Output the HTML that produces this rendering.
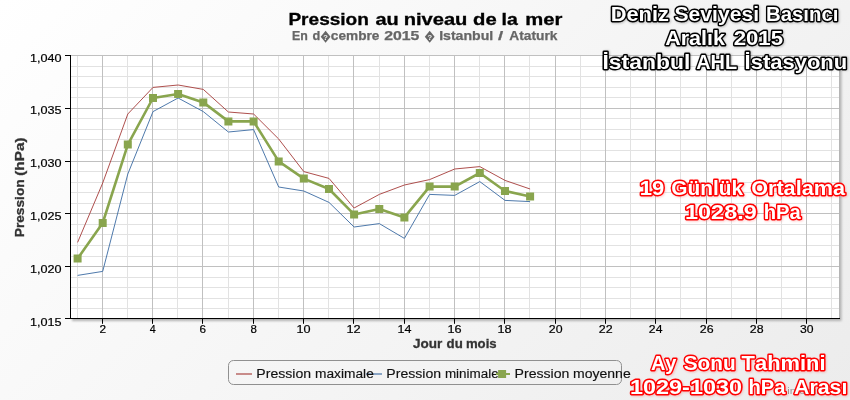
<!DOCTYPE html>
<html><head><meta charset="utf-8"><title>Pression au niveau de la mer</title>
<style>
html,body{margin:0;padding:0;}
body{width:850px;height:400px;overflow:hidden;background:#fff;font-family:"Liberation Sans",sans-serif;}
svg{display:block;font-family:"Liberation Sans",sans-serif;font-kerning:none;}
.tk{font-size:11px;fill:#000;}
.ax{font-size:12px;font-weight:bold;fill:#333;}
.lg{font-size:13px;fill:#111;}
.w{font-size:20.7px;font-weight:bold;fill:#fff;stroke:#000;stroke-width:2.9px;stroke-linejoin:round;paint-order:stroke fill;}
.r{font-size:20.7px;font-weight:bold;fill:#fff;stroke:#f00;stroke-width:2.9px;stroke-linejoin:round;paint-order:stroke fill;}
</style></head><body>
<svg width="850" height="400" viewBox="0 0 850 400" style="will-change:transform">
<defs>
<linearGradient id="bg" gradientUnits="userSpaceOnUse" x1="0" y1="0" x2="625" y2="625"><stop offset="0" stop-color="#ffffff"/><stop offset="1" stop-color="#ececec"/></linearGradient>
<filter id="ps" x="-5%" y="-5%" width="110%" height="110%"><feGaussianBlur stdDeviation="1"/></filter>
<filter id="ts" filterUnits="userSpaceOnUse" x="590" y="0" width="260" height="400"><feGaussianBlur stdDeviation="1.2"/></filter>
</defs>
<rect x="0" y="0" width="850" height="400" fill="url(#bg)"/>

<rect x="72" y="57" width="769.5" height="264" fill="#b2b2b2" filter="url(#ps)"/>
<rect x="70" y="55" width="769" height="264" fill="#fff"/>
<path d="M71 308.5H839M71 298.5H839M71 287.5H839M71 277.5H839M71 256.5H839M71 245.5H839M71 234.5H839M71 224.5H839M71 203.5H839M71 192.5H839M71 182.5H839M71 171.5H839M71 150.5H839M71 139.5H839M71 129.5H839M71 118.5H839M71 97.5H839M71 87.5H839M71 76.5H839M71 66.5H839M77.5 55V318M127.5 55V318M177.5 55V318M228.5 55V318M278.5 55V318M328.5 55V318M379.5 55V318M429.5 55V318M479.5 55V318M529.5 55V318M580.5 55V318M630.5 55V318M680.5 55V318M731.5 55V318M781.5 55V318M831.5 55V318" stroke="#e2e2e2" stroke-width="1" fill="none"/>
<path d="M71 266.5H839M71 213.5H839M71 161.5H839M71 108.5H839M71 55.5H839M102.5 55V318M152.5 55V318M202.5 55V318M253.5 55V318M303.5 55V318M353.5 55V318M404.5 55V318M454.5 55V318M504.5 55V318M555.5 55V318M605.5 55V318M655.5 55V318M706.5 55V318M756.5 55V318M806.5 55V318" stroke="#c0c0c0" stroke-width="1" fill="none"/>
<polyline points="77.6,242.4 102.7,183.0 127.8,114.0 153.0,87.4 178.1,85.0 203.3,89.4 228.4,112.0 253.6,114.0 278.7,139.0 303.8,171.6 329.0,178.4 354.1,208.0 379.3,194.4 404.4,185.0 429.6,179.6 454.7,169.0 479.8,166.6 505.0,180.4 530.1,189.0" fill="none" stroke="#AA4643" stroke-width="0.95" stroke-linejoin="round"/>
<polyline points="77.6,275.4 102.7,271.4 127.8,174.0 153.0,111.6 178.1,98.0 203.3,111.6 228.4,132.0 253.6,129.6 278.7,187.0 303.8,191.0 329.0,202.4 354.1,227.0 379.3,223.6 404.4,238.4 429.6,194.4 454.7,195.4 479.8,181.6 505.0,200.4 530.1,201.6" fill="none" stroke="#4572A7" stroke-width="0.95" stroke-linejoin="round"/>
<polyline points="77.6,258.6 102.7,223.0 127.8,144.6 153.0,98.0 178.1,94.0 203.3,102.4 228.4,121.4 253.6,121.4 278.7,161.4 303.8,178.6 329.0,189.0 354.1,214.4 379.3,209.0 404.4,217.4 429.6,186.6 454.7,186.6 479.8,173.0 505.0,191.0 530.1,196.4" fill="none" stroke="#89A54E" stroke-width="2.6" stroke-linejoin="round"/>
<path d="M73.6 254.6h8v8h-8zM98.7 219.0h8v8h-8zM123.8 140.6h8v8h-8zM149.0 94.0h8v8h-8zM174.1 90.0h8v8h-8zM199.3 98.4h8v8h-8zM224.4 117.4h8v8h-8zM249.6 117.4h8v8h-8zM274.7 157.4h8v8h-8zM299.8 174.6h8v8h-8zM325.0 185.0h8v8h-8zM350.1 210.4h8v8h-8zM375.3 205.0h8v8h-8zM400.4 213.4h8v8h-8zM425.6 182.6h8v8h-8zM450.7 182.6h8v8h-8zM475.8 169.0h8v8h-8zM501.0 187.0h8v8h-8zM526.1 192.4h8v8h-8z" fill="#89A54E"/>
<path d="M70.5 55V319M70 318.5H840M65 318.5H70M65 266.5H70M65 213.5H70M65 161.5H70M65 108.5H70M65 55.5H70M102.5 319V323.8M152.5 319V323.8M202.5 319V323.8M253.5 319V323.8M303.5 319V323.8M353.5 319V323.8M404.5 319V323.8M454.5 319V323.8M504.5 319V323.8M555.5 319V323.8M605.5 319V323.8M655.5 319V323.8M706.5 319V323.8M756.5 319V323.8M806.5 319V323.8" stroke="#000" stroke-width="1" fill="none"/>
<text x="29.94" y="62" font-size="11.6px" fill="#000" textLength="31.55" lengthAdjust="spacingAndGlyphs" stroke="#000" stroke-width="0.2">1,040</text>
<text x="29.94" y="114" font-size="11.6px" fill="#000" textLength="31.59" lengthAdjust="spacingAndGlyphs" stroke="#000" stroke-width="0.2">1,035</text>
<text x="29.94" y="167" font-size="11.6px" fill="#000" textLength="31.55" lengthAdjust="spacingAndGlyphs" stroke="#000" stroke-width="0.2">1,030</text>
<text x="29.94" y="220" font-size="11.6px" fill="#000" textLength="31.59" lengthAdjust="spacingAndGlyphs" stroke="#000" stroke-width="0.2">1,025</text>
<text x="29.94" y="273" font-size="11.6px" fill="#000" textLength="31.55" lengthAdjust="spacingAndGlyphs" stroke="#000" stroke-width="0.2">1,020</text>
<text x="29.94" y="326" font-size="11.6px" fill="#000" textLength="31.59" lengthAdjust="spacingAndGlyphs" stroke="#000" stroke-width="0.2">1,015</text>
<text x="99.50" y="333" font-size="11.6px" fill="#000" textLength="6.59" lengthAdjust="spacingAndGlyphs" stroke="#000" stroke-width="0.2">2</text>
<text x="149.85" y="333" font-size="11.6px" fill="#000" textLength="5.96" lengthAdjust="spacingAndGlyphs" stroke="#000" stroke-width="0.2">4</text>
<text x="199.51" y="333" font-size="11.6px" fill="#000" textLength="6.51" lengthAdjust="spacingAndGlyphs" stroke="#000" stroke-width="0.2">6</text>
<text x="250.60" y="333" font-size="11.6px" fill="#000" textLength="6.40" lengthAdjust="spacingAndGlyphs" stroke="#000" stroke-width="0.2">8</text>
<text x="296.54" y="333" font-size="11.6px" fill="#000" textLength="14.06" lengthAdjust="spacingAndGlyphs" stroke="#000" stroke-width="0.2">10</text>
<text x="346.53" y="333" font-size="11.6px" fill="#000" textLength="14.22" lengthAdjust="spacingAndGlyphs" stroke="#000" stroke-width="0.2">12</text>
<text x="397.55" y="333" font-size="11.6px" fill="#000" textLength="13.92" lengthAdjust="spacingAndGlyphs" stroke="#000" stroke-width="0.2">14</text>
<text x="447.53" y="333" font-size="11.6px" fill="#000" textLength="14.13" lengthAdjust="spacingAndGlyphs" stroke="#000" stroke-width="0.2">16</text>
<text x="497.53" y="333" font-size="11.6px" fill="#000" textLength="14.12" lengthAdjust="spacingAndGlyphs" stroke="#000" stroke-width="0.2">18</text>
<text x="548.88" y="333" font-size="11.6px" fill="#000" textLength="13.70" lengthAdjust="spacingAndGlyphs" stroke="#000" stroke-width="0.2">20</text>
<text x="598.87" y="333" font-size="11.6px" fill="#000" textLength="13.85" lengthAdjust="spacingAndGlyphs" stroke="#000" stroke-width="0.2">22</text>
<text x="648.89" y="333" font-size="11.6px" fill="#000" textLength="13.57" lengthAdjust="spacingAndGlyphs" stroke="#000" stroke-width="0.2">24</text>
<text x="699.88" y="333" font-size="11.6px" fill="#000" textLength="13.77" lengthAdjust="spacingAndGlyphs" stroke="#000" stroke-width="0.2">26</text>
<text x="749.88" y="333" font-size="11.6px" fill="#000" textLength="13.76" lengthAdjust="spacingAndGlyphs" stroke="#000" stroke-width="0.2">28</text>
<text x="800.04" y="333" font-size="11.6px" fill="#000" textLength="13.54" lengthAdjust="spacingAndGlyphs" stroke="#000" stroke-width="0.2">30</text>
<text x="413.00" y="348" font-size="12.7px" font-weight="bold" fill="#333" textLength="29.31" lengthAdjust="spacingAndGlyphs" stroke="#333" stroke-width="0.3">Jour</text>
<text x="446.56" y="348" font-size="12.7px" font-weight="bold" fill="#333" textLength="16.22" lengthAdjust="spacingAndGlyphs" stroke="#333" stroke-width="0.3">du</text>
<text x="465.93" y="348" font-size="12.7px" font-weight="bold" fill="#333" textLength="30.71" lengthAdjust="spacingAndGlyphs" stroke="#333" stroke-width="0.3">mois</text>
<g transform="translate(24.2,0) rotate(-90)">
<text x="-237.22" y="0" font-size="12.7px" font-weight="bold" fill="#333" textLength="57.87" lengthAdjust="spacingAndGlyphs" stroke="#333" stroke-width="0.3">Pression</text>
<text x="-175.76" y="0" font-size="12.7px" font-weight="bold" fill="#333" textLength="38.22" lengthAdjust="spacingAndGlyphs" stroke="#333" stroke-width="0.3">(hPa)</text>
</g>
<text x="288.43" y="24.5" font-size="15.9px" font-weight="bold" fill="#000" textLength="80.46" lengthAdjust="spacingAndGlyphs" stroke="#000" stroke-width="0.3">Pression</text>
<text x="375.52" y="24.5" font-size="15.9px" font-weight="bold" fill="#000" textLength="23.30" lengthAdjust="spacingAndGlyphs" stroke="#000" stroke-width="0.3">au</text>
<text x="403.67" y="24.5" font-size="15.9px" font-weight="bold" fill="#000" textLength="63.75" lengthAdjust="spacingAndGlyphs" stroke="#000" stroke-width="0.3">niveau</text>
<text x="473.07" y="24.5" font-size="15.9px" font-weight="bold" fill="#000" textLength="23.62" lengthAdjust="spacingAndGlyphs" stroke="#000" stroke-width="0.3">de</text>
<text x="501.64" y="24.5" font-size="15.9px" font-weight="bold" fill="#000" textLength="16.24" lengthAdjust="spacingAndGlyphs" stroke="#000" stroke-width="0.3">la</text>
<text x="525.17" y="24.5" font-size="15.9px" font-weight="bold" fill="#000" textLength="37.14" lengthAdjust="spacingAndGlyphs" stroke="#000" stroke-width="0.3">mer</text>
<text x="292.07" y="39.8" font-size="12.0px" font-weight="bold" fill="#666" textLength="15.79" lengthAdjust="spacingAndGlyphs" stroke="#666" stroke-width="0.25">En</text>
<text x="312.48" y="39.8" font-size="12.0px" font-weight="bold" fill="#666" textLength="7.76" lengthAdjust="spacingAndGlyphs" stroke="#666" stroke-width="0.25">d</text>
<text x="330.87" y="39.8" font-size="12.0px" font-weight="bold" fill="#666" textLength="48.50" lengthAdjust="spacingAndGlyphs" stroke="#666" stroke-width="0.25">cembre</text>
<text x="384.15" y="39.8" font-size="12.0px" font-weight="bold" fill="#666" textLength="35.19" lengthAdjust="spacingAndGlyphs" stroke="#666" stroke-width="0.25">2015</text>
<text x="439.16" y="39.8" font-size="12.0px" font-weight="bold" fill="#666" textLength="54.04" lengthAdjust="spacingAndGlyphs" stroke="#666" stroke-width="0.25">Istanbul</text>
<text x="498.02" y="39.8" font-size="12.0px" font-weight="bold" fill="#666" textLength="5.16" lengthAdjust="spacingAndGlyphs" stroke="#666" stroke-width="0.25">/</text>
<text x="509.36" y="39.8" font-size="12.0px" font-weight="bold" fill="#666" textLength="48.13" lengthAdjust="spacingAndGlyphs" stroke="#666" stroke-width="0.25">Ataturk</text>
<path d="M325.6 30.8L330.5 36.8L325.6 42.8L320.70000000000005 36.8Z" fill="#666"/>
<text x="325.6" y="39.6" text-anchor="middle" font-size="7.5px" font-weight="bold" fill="#f4f4f4">?</text>
<path d="M429.7 30.8L434.59999999999997 36.8L429.7 42.8L424.8 36.8Z" fill="#666"/>
<text x="429.7" y="39.6" text-anchor="middle" font-size="7.5px" font-weight="bold" fill="#f4f4f4">?</text>
<rect x="228.5" y="360.5" width="393" height="24" rx="5" ry="5" fill="none" stroke="#909090" stroke-width="1"/>
<path d="M236 374H252" stroke="#AA4643" stroke-opacity="0.6" stroke-width="2" fill="none"/>
<path d="M366 374H382" stroke="#4572A7" stroke-opacity="0.6" stroke-width="2" fill="none"/>
<text x="256.35" y="378" font-size="13.7px" fill="#111" textLength="54.77" lengthAdjust="spacingAndGlyphs" stroke="#111" stroke-width="0.15">Pression</text>
<text x="314.99" y="378" font-size="13.7px" fill="#111" textLength="58.82" lengthAdjust="spacingAndGlyphs" stroke="#111" stroke-width="0.15">maximale</text>
<text x="386.35" y="378" font-size="13.7px" fill="#111" textLength="54.77" lengthAdjust="spacingAndGlyphs" stroke="#111" stroke-width="0.15">Pression</text>
<text x="444.91" y="378" font-size="13.7px" fill="#111" textLength="53.79" lengthAdjust="spacingAndGlyphs" stroke="#111" stroke-width="0.15">minimale</text>
<text x="514.54" y="378" font-size="13.7px" fill="#111" textLength="54.87" lengthAdjust="spacingAndGlyphs" stroke="#111" stroke-width="0.15">Pression</text>
<text x="572.97" y="378" font-size="13.7px" fill="#111" textLength="57.76" lengthAdjust="spacingAndGlyphs" stroke="#111" stroke-width="0.15">moyenne</text>
<path d="M496 374H510" stroke="#89A54E" stroke-width="2" fill="none"/><rect x="498.1" y="370" width="8" height="8" fill="#89A54E"/>
<text x="787.2" y="394.4" font-size="9px" fill="#999" textLength="58" lengthAdjust="spacingAndGlyphs">infoclimat.fr</text>
<g filter="url(#ts)"><text x="611.59" y="21.80" font-size="20.7px" font-weight="bold" fill="#000" stroke="#000" stroke-width="2.9" stroke-linejoin="round" opacity="0.22" textLength="58.25" lengthAdjust="spacingAndGlyphs">Deniz</text>
<text x="675.44" y="21.80" font-size="20.7px" font-weight="bold" fill="#000" stroke="#000" stroke-width="2.9" stroke-linejoin="round" opacity="0.22" textLength="84.50" lengthAdjust="spacingAndGlyphs">Seviyesi</text>
<text x="766.89" y="21.80" font-size="20.7px" font-weight="bold" fill="#000" stroke="#000" stroke-width="2.9" stroke-linejoin="round" opacity="0.22" textLength="72.49" lengthAdjust="spacingAndGlyphs">Basıncı</text>
<text x="666.11" y="45.70" font-size="20.7px" font-weight="bold" fill="#000" stroke="#000" stroke-width="2.9" stroke-linejoin="round" opacity="0.22" textLength="59.71" lengthAdjust="spacingAndGlyphs">Aralık</text>
<text x="734.58" y="45.70" font-size="20.7px" font-weight="bold" fill="#000" stroke="#000" stroke-width="2.9" stroke-linejoin="round" opacity="0.22" textLength="49.39" lengthAdjust="spacingAndGlyphs">2015</text>
<text x="603.42" y="69.40" font-size="20.7px" font-weight="bold" fill="#000" stroke="#000" stroke-width="2.9" stroke-linejoin="round" opacity="0.22" textLength="87.75" lengthAdjust="spacingAndGlyphs">İstanbul</text>
<text x="697.15" y="69.40" font-size="20.7px" font-weight="bold" fill="#000" stroke="#000" stroke-width="2.9" stroke-linejoin="round" opacity="0.22" textLength="40.91" lengthAdjust="spacingAndGlyphs">AHL</text>
<text x="745.48" y="69.40" font-size="20.7px" font-weight="bold" fill="#000" stroke="#000" stroke-width="2.9" stroke-linejoin="round" opacity="0.22" textLength="102.62" lengthAdjust="spacingAndGlyphs">İstasyonu</text>
<text x="640.56" y="196.25" font-size="20.7px" font-weight="bold" fill="#f00" stroke="#f00" stroke-width="2.9" stroke-linejoin="round" opacity="0.2" textLength="24.51" lengthAdjust="spacingAndGlyphs">19</text>
<text x="672.29" y="196.25" font-size="20.7px" font-weight="bold" fill="#f00" stroke="#f00" stroke-width="2.9" stroke-linejoin="round" opacity="0.2" textLength="71.84" lengthAdjust="spacingAndGlyphs">Günlük</text>
<text x="752.06" y="196.25" font-size="20.7px" font-weight="bold" fill="#f00" stroke="#f00" stroke-width="2.9" stroke-linejoin="round" opacity="0.2" textLength="93.85" lengthAdjust="spacingAndGlyphs">Ortalama</text>
<text x="685.97" y="220.10" font-size="20.7px" font-weight="bold" fill="#f00" stroke="#f00" stroke-width="2.9" stroke-linejoin="round" opacity="0.2" textLength="71.64" lengthAdjust="spacingAndGlyphs">1028.9</text>
<text x="764.64" y="220.10" font-size="20.7px" font-weight="bold" fill="#f00" stroke="#f00" stroke-width="2.9" stroke-linejoin="round" opacity="0.2" textLength="37.08" lengthAdjust="spacingAndGlyphs">hPa</text>
<text x="651.85" y="370.85" font-size="20.7px" font-weight="bold" fill="#f00" stroke="#f00" stroke-width="2.9" stroke-linejoin="round" opacity="0.2" textLength="25.50" lengthAdjust="spacingAndGlyphs">Ay</text>
<text x="684.65" y="370.85" font-size="20.7px" font-weight="bold" fill="#f00" stroke="#f00" stroke-width="2.9" stroke-linejoin="round" opacity="0.2" textLength="51.97" lengthAdjust="spacingAndGlyphs">Sonu</text>
<text x="742.50" y="370.85" font-size="20.7px" font-weight="bold" fill="#f00" stroke="#f00" stroke-width="2.9" stroke-linejoin="round" opacity="0.2" textLength="83.90" lengthAdjust="spacingAndGlyphs">Tahmini</text>
<text x="630.98" y="394.75" font-size="20.7px" font-weight="bold" fill="#f00" stroke="#f00" stroke-width="2.9" stroke-linejoin="round" opacity="0.2" textLength="111.83" lengthAdjust="spacingAndGlyphs">1029-1030</text>
<text x="749.44" y="394.75" font-size="20.7px" font-weight="bold" fill="#f00" stroke="#f00" stroke-width="2.9" stroke-linejoin="round" opacity="0.2" textLength="36.98" lengthAdjust="spacingAndGlyphs">hPa</text>
<text x="795.02" y="394.75" font-size="20.7px" font-weight="bold" fill="#f00" stroke="#f00" stroke-width="2.9" stroke-linejoin="round" opacity="0.2" textLength="53.22" lengthAdjust="spacingAndGlyphs">Arası</text></g>
<text class="w" x="610.69" y="20.9" textLength="58.25" lengthAdjust="spacingAndGlyphs">Deniz</text>
<text class="w" x="674.54" y="20.9" textLength="84.50" lengthAdjust="spacingAndGlyphs">Seviyesi</text>
<text class="w" x="765.99" y="20.9" textLength="72.49" lengthAdjust="spacingAndGlyphs">Basıncı</text>
<text class="w" x="665.21" y="44.8" textLength="59.71" lengthAdjust="spacingAndGlyphs">Aralık</text>
<text class="w" x="733.68" y="44.8" textLength="49.39" lengthAdjust="spacingAndGlyphs">2015</text>
<text class="w" x="602.52" y="68.5" textLength="87.75" lengthAdjust="spacingAndGlyphs">İstanbul</text>
<text class="w" x="696.25" y="68.5" textLength="40.91" lengthAdjust="spacingAndGlyphs">AHL</text>
<text class="w" x="744.58" y="68.5" textLength="102.62" lengthAdjust="spacingAndGlyphs">İstasyonu</text>
<text class="r" x="639.66" y="195.35" textLength="24.51" lengthAdjust="spacingAndGlyphs">19</text>
<text class="r" x="671.39" y="195.35" textLength="71.84" lengthAdjust="spacingAndGlyphs">Günlük</text>
<text class="r" x="751.16" y="195.35" textLength="93.85" lengthAdjust="spacingAndGlyphs">Ortalama</text>
<text class="r" x="685.07" y="219.2" textLength="71.64" lengthAdjust="spacingAndGlyphs">1028.9</text>
<text class="r" x="763.74" y="219.2" textLength="37.08" lengthAdjust="spacingAndGlyphs">hPa</text>
<text class="r" x="650.95" y="369.95" textLength="25.50" lengthAdjust="spacingAndGlyphs">Ay</text>
<text class="r" x="683.75" y="369.95" textLength="51.97" lengthAdjust="spacingAndGlyphs">Sonu</text>
<text class="r" x="741.60" y="369.95" textLength="83.90" lengthAdjust="spacingAndGlyphs">Tahmini</text>
<text class="r" x="630.08" y="393.85" textLength="111.83" lengthAdjust="spacingAndGlyphs">1029-1030</text>
<text class="r" x="748.54" y="393.85" textLength="36.98" lengthAdjust="spacingAndGlyphs">hPa</text>
<text class="r" x="794.12" y="393.85" textLength="53.22" lengthAdjust="spacingAndGlyphs">Arası</text>
</svg>
</body></html>
